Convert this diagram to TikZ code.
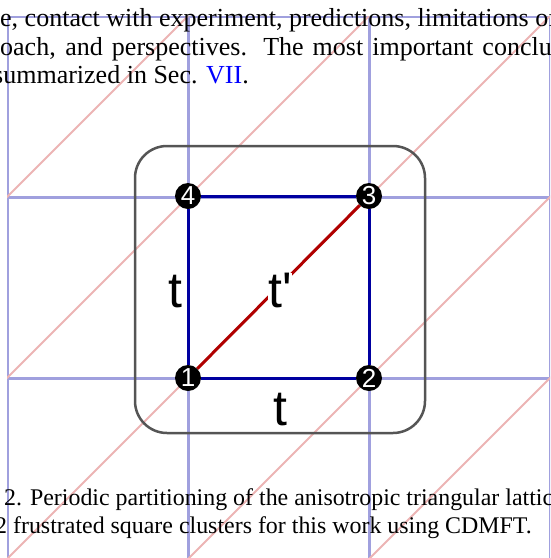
\documentclass[tikz,border=0pt]{standalone}
\usepackage{fontspec}
\setmainfont{Liberation Serif}
\newfontfamily\labelfont{Liberation Sans}

\definecolor{latblue}{RGB}{160,160,222}
\definecolor{latred}{RGB}{236,180,180}
\definecolor{bondblue}{RGB}{0,0,160}
\definecolor{bondred}{RGB}{176,0,0}
\definecolor{boxgray}{RGB}{85,85,85}
\definecolor{linkblue}{RGB}{0,0,255}

\tikzset{site/.style={circle,fill=black,text=white,inner sep=0pt,minimum size=26pt,font=\labelfont\fontsize{26}{26}\selectfont},
  hop/.style={anchor=base,inner sep=0pt,font=\labelfont\fontsize{50}{50}\selectfont},
  body/.style={anchor=base west,inner sep=0pt,font=\fontsize{26}{28}\selectfont},
  capt/.style={anchor=base west,inner sep=0pt,font=\fontsize{23.9}{28}\selectfont}}

\begin{document}
\begin{tikzpicture}[x=1pt,y=-1pt]
\useasboundingbox (0,0) rectangle (551,558);
\clip (0,0) rectangle (551,558);
\begin{scope}
\clip (7,16) rectangle (550,559);
\foreach \i in {0,...,3} {
  \draw[latblue,line width=3pt] (7+181*\i,16) -- (7+181*\i,559);
  \draw[latblue,line width=3pt] (7,16+181*\i) -- (550,16+181*\i);
}
\foreach \k in {0,...,6}
  \draw[latred,line width=2pt] (7+181*\k,16) -- ++(-600,600);
\end{scope}

\node[body] (l1) at (0,26) {e, contact with experiment, predictions, limitations of};
\node[body] (l2) at (0,55) {\hbox to 605pt{oach, and perspectives. The most important conclusions}};
\node[body] (l3) at (-7,83) {summarized in Sec. \textcolor{linkblue}{VII}.};
\node[capt] (c1) at (4,505) {2. Periodic partitioning of the anisotropic triangular lattice};
\node[capt] (c2) at (-5,533) {2 frustrated square clusters for this work using CDMFT.};

\draw[boxgray,line width=2.5pt,rounded corners=32pt] (135,146) rectangle (425,433);

\node[site] (s1) at (188,378) {1};
\node[site] (s2) at (369,378) {2};
\node[site] (s3) at (369,196) {3};
\node[site] (s4) at (188,196) {4};
\draw[bondblue,line width=3pt] (s1) -- (s2) -- (s3) -- (s4) -- (s1);
\draw[bondred,line width=3pt] (s1) -- (s3);

\node[hop] (t1) at (175,307) {t};
\node[hop,fill=white] (t2) at (280,307) {t'};
\node[hop] (t3) at (280,425) {t};
\end{tikzpicture}
\end{document}
